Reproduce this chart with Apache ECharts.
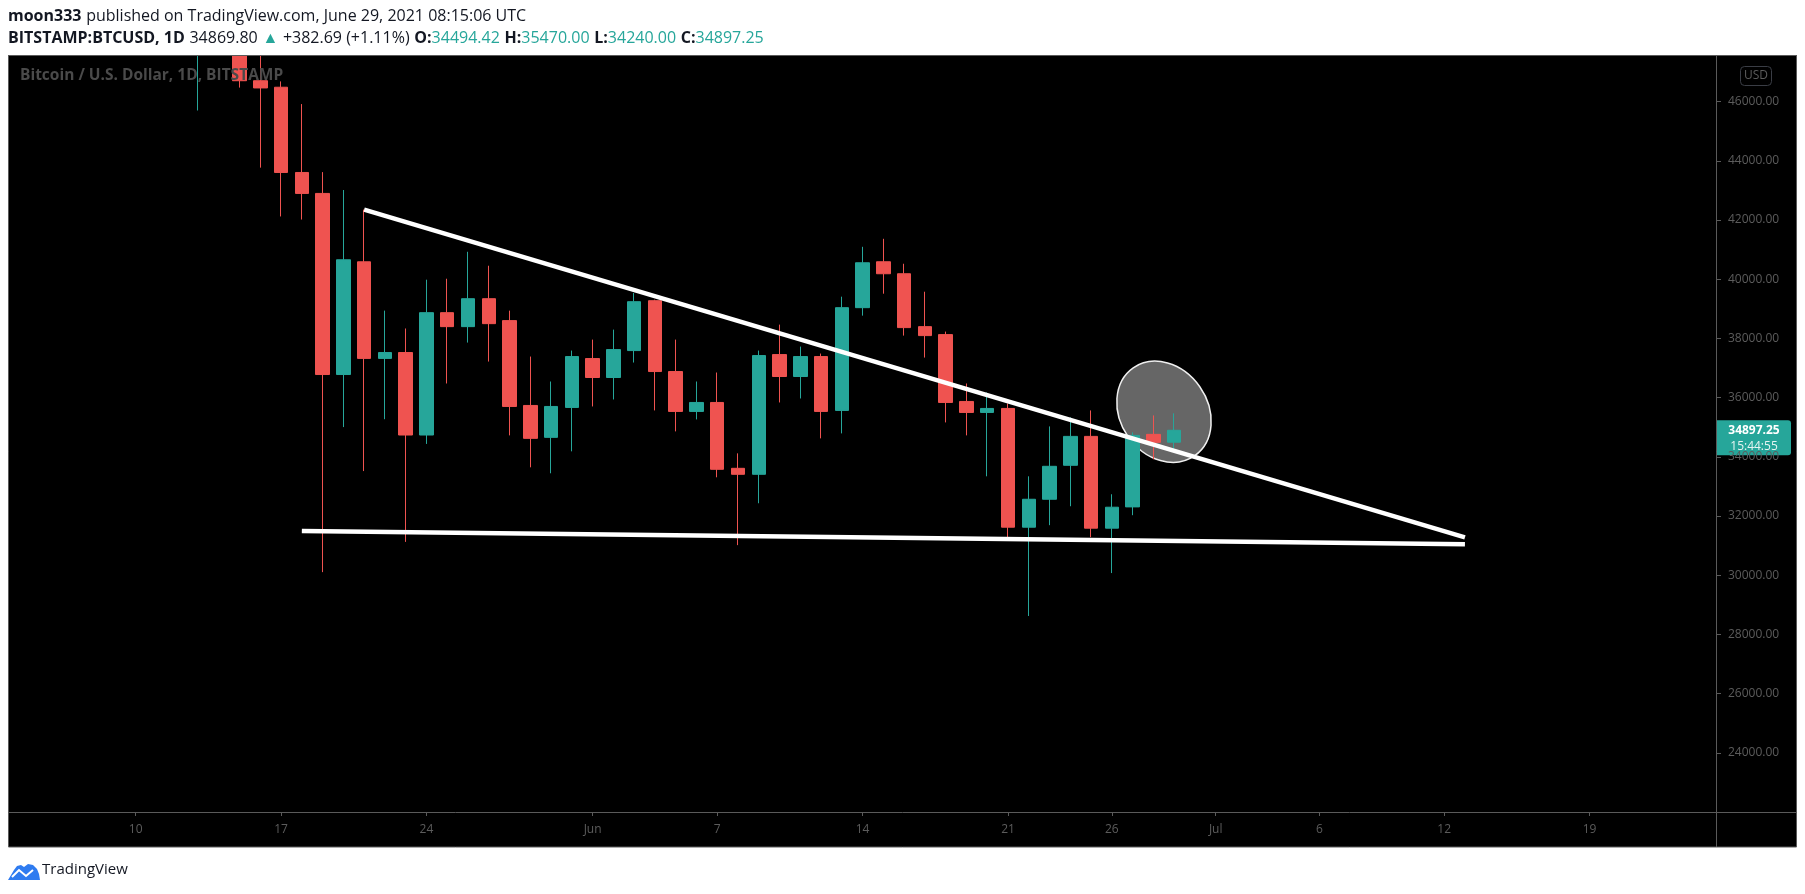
<!DOCTYPE html>
<html><head><meta charset="utf-8">
<script src="https://cdn.jsdelivr.net/npm/echarts@6/dist/echarts.min.js"></script>
<style>html,body{margin:0;padding:0;background:#fff;overflow:hidden}#c{width:1805px;height:894px}</style>
</head><body><div id="c"></div>
<script>
// ---------- data ----------
const dates = ['2021-05-13','2021-05-14','2021-05-15','2021-05-16','2021-05-17','2021-05-18','2021-05-19','2021-05-20','2021-05-21','2021-05-22','2021-05-23','2021-05-24','2021-05-25','2021-05-26','2021-05-27','2021-05-28','2021-05-29','2021-05-30','2021-05-31',
'2021-06-01','2021-06-02','2021-06-03','2021-06-04','2021-06-05','2021-06-06','2021-06-07','2021-06-08','2021-06-09','2021-06-10','2021-06-11','2021-06-12','2021-06-13','2021-06-14','2021-06-15','2021-06-16','2021-06-17','2021-06-18','2021-06-19','2021-06-20','2021-06-21','2021-06-22','2021-06-23','2021-06-24','2021-06-25','2021-06-26','2021-06-27','2021-06-28','2021-06-29'];
const opens = [49500,49700,49900,46706,46486,43606,42898,36780,40588,37325,37523,34736,38870,38398,39342,38601,35735,34657,35668,
37320,36679,37589,39275,36881,35533,35836,33611,33409,37454,36713,37387,35567,39039,40590,40185,38398,38129,35870,35499,35634,31622,32566,33713,34690,31589,32308,34758,34494.42];
const closes = [49700,49900,46706,46462,43606,42898,36780,40657,37325,37523,34736,38870,38398,39342,38499,35701,34623,35701,37387,
36679,37623,39241,36881,35533,35836,33578,33409,37421,36713,37387,35533,39039,40556,40185,38365,38095,35836,35499,35634,31622,32566,33679,34690,31589,32297,34724,34488,34897.25];
const lows = [45700,48800,46474,43769,42120,42016,30104,35004,33518,35270,31126,34435,36477,37859,37218,34724,33645,33443,34185,
35701,35937,37185,35567,34859,35263,33308,31016,32431,35836,35971,34623,34791,38769,39511,38095,37353,35162,34724,33341,31251,28622,31690,32330,31285,30072,32027,33915,34240];
const highs = [51400,51500,50600,49000,46683,45917,43618,43014,42352,38939,38335,39984,40016,40927,40455,38938,37387,36544,37589,
37960,38297,39533,39309,37960,36544,36848,34117,37589,38466,37724,37488,39410,41095,41365,40522,39578,38230,36477,36173,35803,33341,35027,35331,35567,32735,34825,35398,35470];

const xTickDates = ['2021-05-10','2021-05-17','2021-05-24','2021-06-01','2021-06-07','2021-06-14','2021-06-21','2021-06-26','2021-07-01','2021-07-06','2021-07-12','2021-07-19'];
const xRange = ['2021-05-03T21:36:00Z','2021-07-25T02:07:00Z'];
const yRange = [22000, 47575];
const yStep = 2000;

const upperTrend = [['2021-05-21', 42352], ['2021-07-13', 31275]];
const lowerTrend = [['2021-05-18', 31497], ['2021-07-13', 31049]];
const highlight = [['2021-06-28T12:15:00Z', 35521]];

const lastTime = '15:44:55';
const headerLine1 = ['moon333', 'published on TradingView.com, June 29, 2021 08:15:06 UTC'];
const symbolName = 'BITSTAMP:BTCUSD, 1D';
const lastPrice = '34869.80';
const change = '+382.69 (+1.11%)';
const ohlc = [['O:', '34494.42'], ['H:', '35470.00'], ['L:', '34240.00'], ['C:', '34897.25']];
const seriesTitle = 'Bitcoin / U.S. Dollar, 1D, BITSTAMP';

// ---------- helpers ----------
const DAY = 86400000;
const dayNum = s => Date.parse(s.length === 10 ? s + 'T00:00:00Z' : s) / DAY;
const MONTHS = ['Jan','Feb','Mar','Apr','May','Jun','Jul','Aug','Sep','Oct','Nov','Dec'];
const fmtDay = v => { const d = new Date(Math.round(v) * DAY); return d.getUTCDate() === 1 ? MONTHS[d.getUTCMonth()] : String(d.getUTCDate()); };

const UP = '#26a69a', DOWN = '#ef5350', GRID_C = '#5a5a5a', TXT_C = '#5c5c5c', FONT = '"Open Sans", sans-serif';

const candleData = dates.map((d, i) => [dayNum(d), opens[i], closes[i], lows[i], highs[i]]);
const tickDays = xTickDates.map(dayNum);
const toXY = arr => arr.map(p => [dayNum(p[0]), p[1]]);

const chart = echarts.init(document.getElementById('c'));

let line2 = `{b|${symbolName}} {n|${lastPrice}} {t|▲} {n|${change}}`;
ohlc.forEach(p => { line2 += ` {b|${p[0]}}{t|${p[1]}}`; });

const HF = 16;
const richBase = {
  b: { fontFamily: FONT, fontSize: HF, fontWeight: 'bold', color: '#131722', lineHeight: 20 },
  n: { fontFamily: FONT, fontSize: HF, fontWeight: 'normal', color: '#131722', lineHeight: 20 },
  t: { fontFamily: FONT, fontSize: HF, fontWeight: 'normal', color: UP, lineHeight: 20 }
};

chart.setOption({
  backgroundColor: '#ffffff',
  animation: false,
  textStyle: { fontFamily: FONT },
  title: [
    { left: 8, top: 6, padding: 0, z: 8, text: `{b|${headerLine1[0]}} {n|${headerLine1[1]}}`, textStyle: { fontWeight: 'normal', rich: richBase } },
    { left: 8, top: 28, padding: 0, z: 8, text: line2, textStyle: { fontWeight: 'normal', rich: richBase } },
    { left: 20, top: 66, padding: 0, z: 20, text: seriesTitle, textStyle: { color: '#4a4a4a', fontSize: 15.5, fontWeight: 'bold', fontFamily: FONT, lineHeight: 20 } },
    { left: 42, top: 860, padding: 0, z: 8, text: 'TradingView', textStyle: { color: '#131722', fontSize: 15, fontWeight: 'normal', fontFamily: FONT, lineHeight: 20 } }
  ],
  grid: { left: 9, right: 89, top: 55, bottom: 82, show: false },
  xAxis: {
    type: 'value', min: dayNum(xRange[0]), max: dayNum(xRange[1]),
    splitLine: { show: false }, axisLine: { show: false },
    axisTick: { show: true, customValues: tickDays, length: 4, lineStyle: { color: GRID_C } },
    axisLabel: { customValues: tickDays, formatter: fmtDay, color: TXT_C, fontSize: 12, fontFamily: FONT, margin: 12 }
  },
  yAxis: {
    type: 'value', position: 'right', min: yRange[0], max: yRange[1], interval: yStep, scale: true,
    splitLine: { show: false }, axisLine: { show: false },
    axisTick: { show: true, length: 5, lineStyle: { color: GRID_C } },
    axisLabel: { formatter: v => v.toFixed(2), showMinLabel: false, showMaxLabel: false, align: 'left', margin: 12, color: TXT_C, fontSize: 12, fontFamily: FONT }
  },
  series: [
    {
      type: 'custom', z: 1, data: toXY(highlight), encode: { x: 0, y: 1 }, clip: true, silent: true,
      renderItem: (params, api) => {
        const c = api.coord([api.value(0), api.value(1)]);
        return { type: 'ellipse', x: c[0], y: c[1], rotation: 35 * Math.PI / 180,
          shape: { cx: 0, cy: 0, rx: 43.7, ry: 53.6 },
          style: { fill: '#666666', stroke: '#f0f0f0', lineWidth: 1.5 } };
      }
    },
    {
      type: 'candlestick', z: 2, data: candleData, encode: { x: 0, y: [1, 2, 3, 4] }, barWidth: 14, clip: true,
      itemStyle: { color: UP, color0: DOWN, borderColor: UP, borderColor0: DOWN, borderWidth: 1 }
    },
    { type: 'line', z: 3, data: toXY(upperTrend), symbol: 'none', clip: true, lineStyle: { color: '#ffffff', width: 4.5, cap: 'butt' } },
    { type: 'line', z: 3, data: toXY(lowerTrend), symbol: 'none', clip: true, lineStyle: { color: '#ffffff', width: 4.5, cap: 'butt' } }
  ]
});

const lastClose = closes[closes.length - 1];
const py = chart.convertToPixel({ yAxisIndex: 0 }, lastClose);

chart.setOption({
  graphic: [
    { type: 'rect', id: 'bg', z: -10, shape: { x: 8.5, y: 55.5, width: 1788, height: 791.5 }, style: { fill: '#000000', stroke: GRID_C, lineWidth: 1 } },
    { type: 'rect', id: 'topmask', z: 5, shape: { x: 0, y: 0, width: 1805, height: 55 }, style: { fill: '#ffffff' } },
    { type: 'line', id: 'topline', z: 6, shape: { x1: 8, y1: 55.5, x2: 1797, y2: 55.5 }, style: { stroke: GRID_C, lineWidth: 1 } },
    { type: 'line', id: 'hsep', z: 5, shape: { x1: 8.5, y1: 812.5, x2: 1796.5, y2: 812.5 }, style: { stroke: GRID_C, lineWidth: 1 } },
    { type: 'line', id: 'vsep', z: 5, shape: { x1: 1716.5, y1: 55.5, x2: 1716.5, y2: 847 }, style: { stroke: GRID_C, lineWidth: 1 } },
    { type: 'rect', id: 'usdbox', z: 5, shape: { x: 1740.5, y: 66.5, width: 31, height: 19, r: 4 }, style: { fill: '#000', stroke: '#3a3d45', lineWidth: 1 } },
    { type: 'text', id: 'usd', z: 6, x: 1756, y: 76, style: { text: 'USD', fill: TXT_C, font: '12px ' + FONT, align: 'center', verticalAlign: 'middle', textAlign: 'center', textVerticalAlign: 'middle' } },
    { type: 'group', id: 'plabel', z: 10, x: 1716, y: py, children: [
      { type: 'rect', shape: { x: 0, y: -10, width: 75, height: 35, r: [0, 3, 3, 0] }, style: { fill: UP } },
      { type: 'text', x: 38, y: 0, style: { text: lastClose.toFixed(2), fill: '#ffffff', font: 'bold 12px ' + FONT, align: 'center', verticalAlign: 'middle', textAlign: 'center', textVerticalAlign: 'middle' } },
      { type: 'text', x: 38, y: 16.5, style: { text: lastTime, fill: '#e6f4f2', font: '12px ' + FONT, align: 'center', verticalAlign: 'middle', textAlign: 'center', textVerticalAlign: 'middle' } }
    ] },
    { type: 'group', id: 'logo', z: 5, x: 8, y: 863, children: [
      { type: 'polygon', shape: { points: [[0, 17], [6, 7], [9, 3], [13, 2], [16, 4], [20, 1], [25, 2], [29, 6], [31, 11], [32, 17]] }, style: { fill: '#2e7bf0' } },
      { type: 'polyline', shape: { points: [[4, 14], [11, 7], [18, 13], [25, 7]] }, style: { stroke: '#ffffff', lineWidth: 2, fill: null } }
    ] }
  ]
});
</script>
</body></html>
